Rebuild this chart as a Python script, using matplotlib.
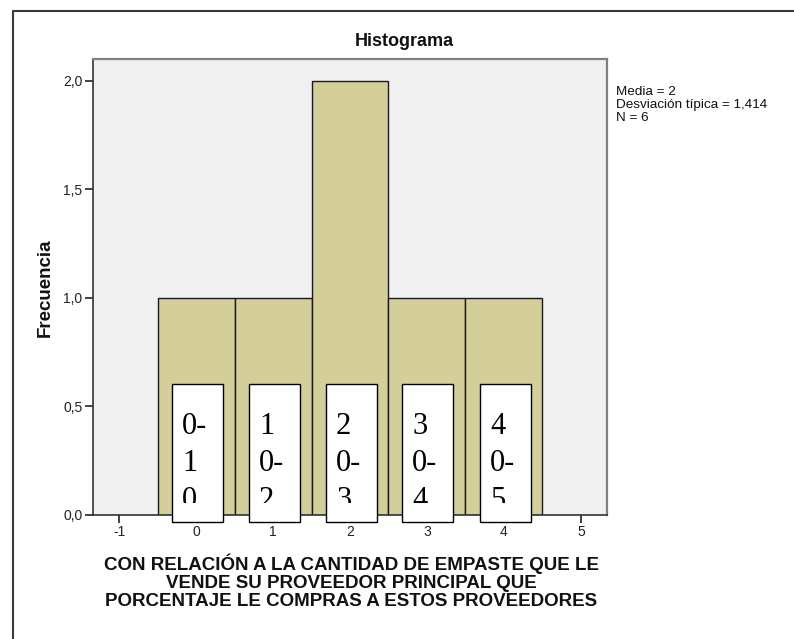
import matplotlib
matplotlib.use("Agg")
import matplotlib.pyplot as plt
from matplotlib.patches import Rectangle
from matplotlib.lines import Line2D
from matplotlib.transforms import Bbox, TransformedBbox

# ---- data ----
bin_centers = [0, 1, 2, 3, 4]
frequencies = [1, 1, 2, 1, 1]
x_ticks = [-1, 0, 1, 2, 3, 4, 5]
x_tick_labels = ["-1", "0", "1", "2", "3", "4", "5"]
y_ticks = [0.0, 0.5, 1.0, 1.5, 2.0]
y_tick_labels = ["0,0", "0,5", "1,0", "1,5", "2,0"]
box_texts = [["0-", "1", "0"], ["1", "0-", "2"], ["2", "0-", "3"],
             ["3", "0-", "4"], ["4", "0-", "5"]]
stats_lines = ["Media = 2", "Desviación típica = 1,414", "N = 6"]
title = "Histograma"
ylabel = "Frecuencia"
xlabel_lines = ["CON RELACIÓN A LA CANTIDAD DE EMPASTE QUE LE",
                "VENDE SU PROVEEDOR PRINCIPAL QUE",
                "PORCENTAJE LE COMPRAS A ESTOS PROVEEDORES"]

W, H = 794, 639
plt.rcParams['font.family'] = ['Liberation Sans', 'DejaVu Sans']
fig = plt.figure(figsize=(W / 100, H / 100), dpi=100)

def fx(px):
    return px / W

def fy(py):
    return 1 - py / H

# axes placement (pixels)
L, R, T, B = 92.7, 607, 59, 515
ax = fig.add_axes([fx(L), fy(B), fx(R) - fx(L), (B - T) / H])
ax.set_facecolor('#f0f0f0')
ax.bar(bin_centers, frequencies, width=1.0, color='#d3ce9a',
       edgecolor='#1a1a1a', linewidth=1.0, zorder=2)
ax.set_xlim(-1.342, 5.338)
ax.set_ylim(0, 2.101)
ax.set_xticks(x_ticks)
ax.set_xticklabels(x_tick_labels)
ax.set_yticks(y_ticks)
ax.set_yticklabels(y_tick_labels)
ax.tick_params(axis='both', direction='out', length=6, width=1.2,
               color='#222222', labelsize=10, labelcolor='#222222', pad=1.5)
for s in ax.spines.values():
    s.set_color('#808080')
    s.set_linewidth(1.6)
ax.spines['left'].set_color('#333333')
ax.spines['bottom'].set_color('#333333')
ax.spines['left'].set_linewidth(1.2)
ax.spines['bottom'].set_linewidth(1.2)

fig.text(fx(404), fy(42), title, ha='center', va='center',
         fontsize=13, fontweight='bold', color='#111111')
fig.text(fx(45), fy(288), ylabel, rotation=90, ha='center', va='center',
         fontsize=13.5, fontweight='bold', color='#111111')
for i, line in enumerate(xlabel_lines):
    fig.text(fx(351), fy(570 + i * 18), line, ha='center', va='baseline',
             fontsize=13.5, fontweight='bold', color='#111111')

for i, line in enumerate(stats_lines):
    fig.text(fx(616), fy(95 + i * 13), line, ha='left', va='baseline',
             fontsize=9.7, color='#111111')

# outer frame
fig.add_artist(Line2D([fx(13), fx(13), fx(W + 5)], [fy(H + 5), fy(11), fy(11)],
                      transform=fig.transFigure, color='#3a3a3a', linewidth=1.5))

# overlay text boxes
box_lefts = [172, 249, 326, 402, 480]
box_w = 51
box_top, box_bot = 384, 522
baselines = [434, 471, 508]
for bl, lines in zip(box_lefts, box_texts):
    fig.add_artist(Rectangle((fx(bl), fy(box_bot)), box_w / W, (box_bot - box_top) / H,
                             transform=fig.transFigure, facecolor='white',
                             edgecolor='black', linewidth=1.0, zorder=5))
    clip = TransformedBbox(Bbox([[fx(bl), fy(503)], [fx(bl + box_w), fy(box_top)]]),
                           fig.transFigure)
    for yb, s in zip(baselines, lines):
        t = fig.text(fx(bl + 10), fy(yb), s, ha='left', va='baseline',
                     fontsize=22, family=['Liberation Serif', 'DejaVu Serif'],
                     color='black', zorder=6)
        t.set_clip_box(clip)
        t.set_clip_on(True)

fig.savefig('out.png', dpi=100)
